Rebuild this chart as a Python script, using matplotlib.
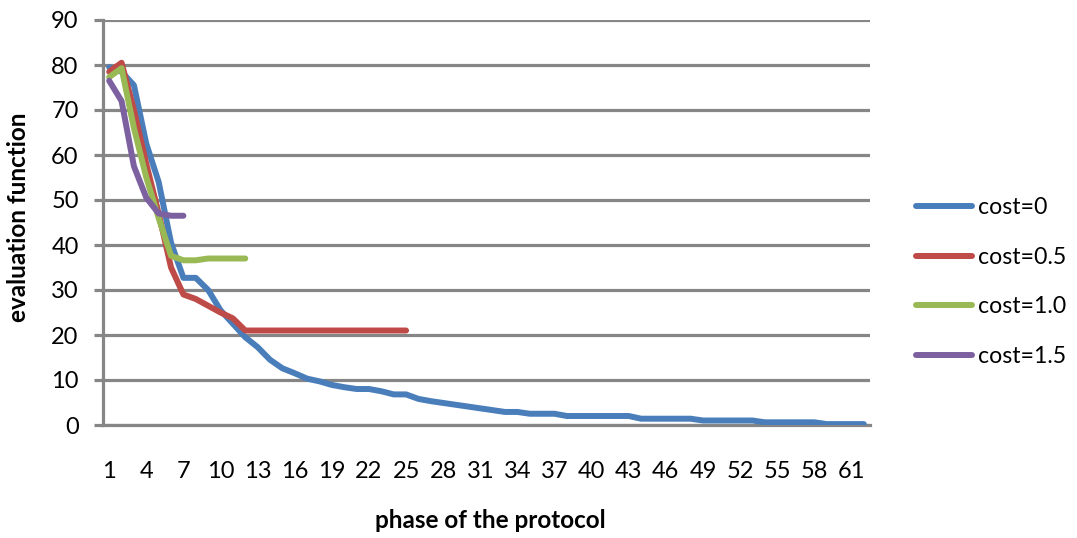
import matplotlib
matplotlib.use("Agg")
import matplotlib.pyplot as plt
import numpy as np

plt.rcParams['font.family'] = ['Lato', 'DejaVu Sans']

# ---- data ----
cost0 = [79.5, 78.5, 75.5, 62.5, 54, 40.5, 32.7, 32.7, 30, 25.5,
         22.5, 19.5, 17.3, 14.5, 12.6, 11.5, 10.3, 9.7, 8.9, 8.4,
         8.0, 8.0, 7.5, 6.8, 6.8, 5.8, 5.3, 4.9, 4.5, 4.1,
         3.7, 3.3, 2.9, 2.9, 2.5, 2.5, 2.5, 2.0, 2.0, 2.0,
         2.0, 2.0, 2.0, 1.4, 1.4, 1.4, 1.4, 1.4, 1.0, 1.0,
         1.0, 1.0, 1.0, 0.6, 0.6, 0.6, 0.6, 0.6, 0.2, 0.2,
         0.2, 0.2]
cost05 = [78.5, 80.5, 70, 58, 47, 35, 29, 28, 26.5, 25,
          23.7, 21, 21, 21, 21, 21, 21, 21, 21, 21,
          21, 21, 21, 21, 21]
cost10 = [77.3, 79.3, 66, 55, 46, 37.6, 36.6, 36.6, 37, 37, 37, 37]
cost15 = [76.5, 72, 57.5, 50.5, 47, 46.5, 46.5]

series_labels = ['cost=0', 'cost=0.5', 'cost=1.0', 'cost=1.5']
series = [cost0, cost05, cost10, cost15]
colors = ['#4A7EBB', '#BE4B48', '#98B954', '#7D60A0']

n_cat = 62
categories = list(range(1, n_cat + 1))
xtick_labels = [str(c) for c in categories[::3]]
yticks = list(range(0, 91, 10))

# ---- figure ----
W, H = 1077, 538
fig = plt.figure(figsize=(W / 100, H / 100), dpi=100)
left, right, top, bottom = 103, 870, 20, 425
ax = fig.add_axes([left / W, 1 - bottom / H, (right - left) / W, (bottom - top) / H])

grid_c = '#868686'
for s, lab, c in zip(series, series_labels, colors):
    x = categories[:len(s)]
    ax.plot(x, s, color=c, lw=4.3, solid_capstyle='round',
            solid_joinstyle='round', label=lab, zorder=3)

ax.set_xlim(0.5, n_cat + 0.5)
ax.set_ylim(0, 90)
ax.set_yticks(yticks)
ax.set_xticks(categories[::3])
ax.set_xticklabels(xtick_labels)

ax.yaxis.grid(True, color=grid_c, lw=2.3, zorder=1)
ax.set_axisbelow(True)
for sp in ['top', 'right']:
    ax.spines[sp].set_visible(False)
for sp in ['left', 'bottom']:
    ax.spines[sp].set_color(grid_c)
    ax.spines[sp].set_linewidth(2.3)

ax.tick_params(axis='y', length=6.5, width=2.3, color=grid_c, pad=11,
               labelsize=17, labelcolor='black')
ax.tick_params(axis='x', length=0, pad=26, labelsize=17, labelcolor='black')

fig.text(490 / W, 1 - 521 / H, 'phase of the protocol', ha='center', va='center',
         fontsize=17.5, fontweight='bold')
fig.text(19 / W, 1 - 217 / H, 'evaluation function', ha='center', va='center',
         rotation=90, fontsize=17.5, fontweight='bold')

leg = fig.legend(loc='center left', bbox_to_anchor=(916 / W, 1 - 282 / H),
                 frameon=False, fontsize=16.7, handlelength=2.42, handletextpad=0.25,
                 labelspacing=1.24, borderpad=0, borderaxespad=0)

fig.savefig('out.png', dpi=100)
